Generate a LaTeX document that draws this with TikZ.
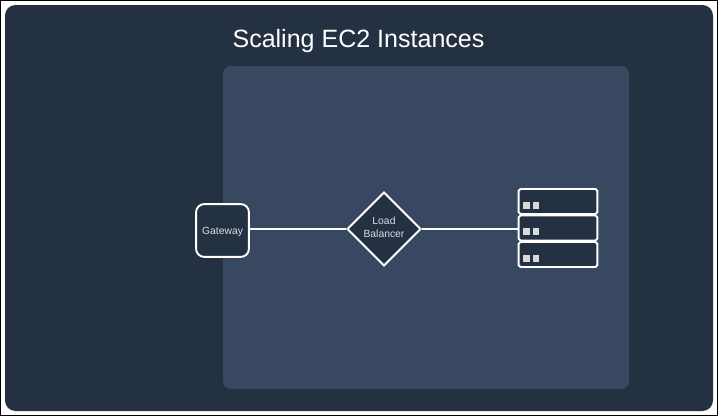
\documentclass[tikz,border=0pt]{standalone}
\usepackage{fontspec}
\setmainfont{Liberation Sans}
\usepackage{xcolor}
\usetikzlibrary{shapes.geometric}
\definecolor{framecolor}{HTML}{243142}
\definecolor{panelcolor}{HTML}{374860}
\definecolor{labelcolor}{HTML}{D9DEE5}
\definecolor{ledcolor}{HTML}{D9D9D9}
\tikzset{boxnode/.style={draw=white,fill=framecolor,line width=1.1pt,inner sep=0pt}}
\tikzset{servernode/.style={boxnode,rounded corners=1pt,minimum width=44.8pt,minimum height=14.2pt}}
\tikzset{lednode/.style={fill=ledcolor,inner sep=0pt,minimum size=3.8pt}}
\tikzset{labelnode/.style={text=labelcolor,font=\fontsize{5.9}{7.2}\selectfont,align=center}}

\begin{document}
\begin{tikzpicture}[x=0.02cm,y=-0.02cm]
	\useasboundingbox (0,0) rectangle (718,416);
	\draw[black,line width=.6pt,fill=white] (0,0) rectangle (718,416);
	\fill[framecolor,rounded corners=6pt] (5,5) rectangle (713,411);
	\fill[panelcolor,rounded corners=4.5pt] (223,66) rectangle (629,389);
	%
	\node[text=white,font=\fontsize{14.25}{16}\selectfont] (title) at (358.5,41) {Scaling EC2 Instances};
	%
	\node[boxnode,rounded corners=4.5pt,minimum size=30pt,labelnode,text depth=0pt] (gateway) at (222.5,230.5) {Gateway};
	\node[boxnode,diamond,minimum size=42pt,labelnode,text depth=1.7pt] (balancer) at (384,229) {Load\\Balancer};
	\node[servernode] (server1) at (558,201.5) {};
	\node[servernode] (server2) at (558,228) {};
	\node[servernode] (server3) at (558,254.5) {};
	%
	\foreach \n/\y in {1/205.5,2/231.5,3/258.5} {
		\node[lednode] (led\n a) at (526.5,\y) {};
		\node[lednode] (led\n b) at (536,\y) {};
	}
	%
	\draw[white,line width=1.1pt] (gateway.east |- balancer.west) -- (balancer.west);
	\draw[white,line width=1.1pt] (balancer.east) -- (balancer.east -| server2.west);
\end{tikzpicture}
\end{document}
